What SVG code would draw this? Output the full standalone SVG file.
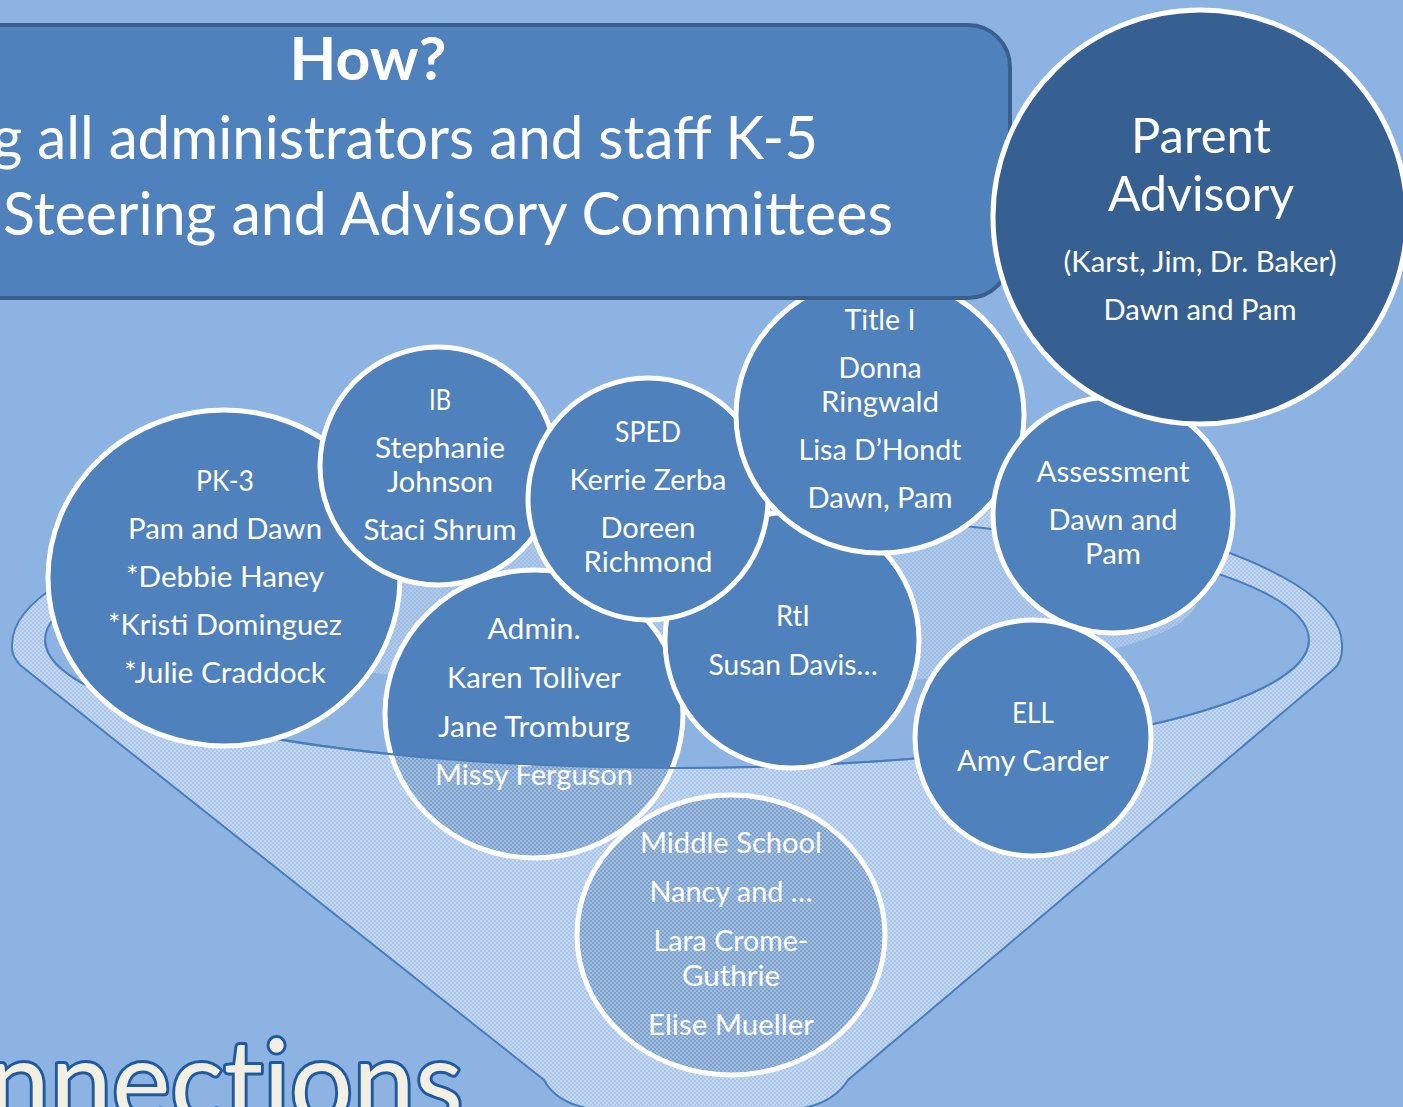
<svg xmlns="http://www.w3.org/2000/svg" width="1403" height="1107" viewBox="0 0 1403 1107">
<style>
.node{fill:#4F81BD;stroke:#FFFFFF;stroke-width:5}
.dark{fill:#376092;stroke:#FFFFFF;stroke-width:5}
.t{font-family:Lato,"Open Sans","Liberation Sans",sans-serif;fill:#FFFFFF;text-anchor:middle;font-size:28px}
.big{font-size:48px}
.title{font-family:Lato,"Open Sans","Liberation Sans",sans-serif;fill:#FFFFFF;font-size:60px}
.edge{fill:none;stroke:#4A7EBB;stroke-width:2}
</style>
<defs>
<pattern id="dots" width="4" height="4" patternUnits="userSpaceOnUse">
<rect width="4" height="4" fill="#FFFFFF" fill-opacity="0.25"/>
<rect width="2" height="2" fill="#FFFFFF" fill-opacity="0.3"/>
<rect x="2" y="2" width="2" height="2" fill="#FFFFFF" fill-opacity="0.3"/>
</pattern>
<clipPath id="innerClip"><ellipse cx="677" cy="640" rx="632" ry="128"/></clipPath>
</defs>
<rect width="1403" height="1107" fill="#8DB3E2"/>

<g id="funnel">
<path d="M45,640 A632,128 0 0 1 1309,640 L1342,645 A665,165 0 0 0 12,645 Z" fill="url(#dots)"/>
<ellipse cx="677" cy="600" rx="520" ry="90" fill="url(#dots)" opacity="0.6" clip-path="url(#innerClip)"/>
<ellipse class="edge" cx="677" cy="640" rx="632" ry="128"/>
</g>

<g id="node-admin">
<ellipse class="node" cx="534" cy="714" rx="149" ry="144"/>
<text class="t" x="534" y="639" textLength="93" lengthAdjust="spacingAndGlyphs">Admin.</text>
<text class="t" x="534" y="688" textLength="174" lengthAdjust="spacingAndGlyphs">Karen Tolliver</text>
<text class="t" x="534" y="737" textLength="192" lengthAdjust="spacingAndGlyphs">Jane Tromburg</text>
<text class="t" x="534" y="785" textLength="198" lengthAdjust="spacingAndGlyphs">Missy Ferguson</text>
</g>

<g id="node-middle">
<ellipse class="node" cx="731" cy="935" rx="154" ry="140"/>
<text class="t" x="731" y="853" textLength="182" lengthAdjust="spacingAndGlyphs">Middle School</text>
<text class="t" x="731" y="902" textLength="163" lengthAdjust="spacingAndGlyphs">Nancy and …</text>
<text class="t" x="731" y="951" textLength="155" lengthAdjust="spacingAndGlyphs">Lara Crome-</text>
<text class="t" x="731" y="986" textLength="98" lengthAdjust="spacingAndGlyphs">Guthrie</text>
<text class="t" x="731" y="1035" textLength="166" lengthAdjust="spacingAndGlyphs">Elise Mueller</text>
</g>

<g id="funnel-front">
<path d="M45,640 A632,128 0 0 0 1309,640 L1342,645 Q1343,662 1333,670 L848,1080 Q832,1106 790,1110 L600,1110 Q558,1106 544,1080 L20,665 Q11,655 12,645 Z" fill="url(#dots)"/>
<path class="edge" d="M12,645 A665,165 0 0 1 1342,645 Q1343,662 1333,670 L848,1080 Q832,1106 790,1110 L600,1110 Q558,1106 544,1080 L20,665 Q11,655 12,645 Z"/>
<path class="edge" d="M45,640 A632,128 0 0 0 1309,640"/>
</g>

<g id="node-pk3">
<ellipse class="node" cx="224" cy="578" rx="176" ry="168"/>
<text class="t" x="225" y="491" textLength="58" lengthAdjust="spacingAndGlyphs">PK-3</text>
<text class="t" x="225" y="539" textLength="194" lengthAdjust="spacingAndGlyphs">Pam and Dawn</text>
<text class="t" x="225" y="587" textLength="198" lengthAdjust="spacingAndGlyphs">*Debbie Haney</text>
<text class="t" x="225" y="635" textLength="234" lengthAdjust="spacingAndGlyphs">*Kristi Dominguez</text>
<text class="t" x="225" y="683" textLength="202" lengthAdjust="spacingAndGlyphs">*Julie Craddock</text>
</g>

<g id="node-ib">
<ellipse class="node" cx="438" cy="466" rx="118" ry="119"/>
<text class="t" x="440" y="410" textLength="22" lengthAdjust="spacingAndGlyphs">IB</text>
<text class="t" x="440" y="458" textLength="130" lengthAdjust="spacingAndGlyphs">Stephanie</text>
<text class="t" x="440" y="492" textLength="106" lengthAdjust="spacingAndGlyphs">Johnson</text>
<text class="t" x="440" y="540" textLength="153" lengthAdjust="spacingAndGlyphs">Staci Shrum</text>
</g>

<g id="node-rti">
<ellipse class="node" cx="792" cy="640" rx="127" ry="128"/>
<text class="t" x="793" y="626" textLength="34" lengthAdjust="spacingAndGlyphs">RtI</text>
<text class="t" x="793" y="675" textLength="169" lengthAdjust="spacingAndGlyphs">Susan Davis…</text>
</g>

<g id="node-sped">
<ellipse class="node" cx="648" cy="499" rx="120" ry="121"/>
<text class="t" x="648" y="442" textLength="66" lengthAdjust="spacingAndGlyphs">SPED</text>
<text class="t" x="648" y="490" textLength="157" lengthAdjust="spacingAndGlyphs">Kerrie Zerba</text>
<text class="t" x="648" y="538" textLength="95" lengthAdjust="spacingAndGlyphs">Doreen</text>
<text class="t" x="648" y="572" textLength="129" lengthAdjust="spacingAndGlyphs">Richmond</text>
</g>

<g id="node-title1">
<ellipse class="node" cx="880" cy="415" rx="144" ry="138"/>
<text class="t" x="880" y="330" textLength="71" lengthAdjust="spacingAndGlyphs">Title I</text>
<text class="t" x="880" y="378" textLength="83" lengthAdjust="spacingAndGlyphs">Donna</text>
<text class="t" x="880" y="412" textLength="118" lengthAdjust="spacingAndGlyphs">Ringwald</text>
<text class="t" x="880" y="460" textLength="163" lengthAdjust="spacingAndGlyphs">Lisa D’Hondt</text>
<text class="t" x="880" y="508" textLength="145" lengthAdjust="spacingAndGlyphs">Dawn, Pam</text>
</g>

<g id="node-ell">
<ellipse class="node" cx="1033" cy="738" rx="118" ry="118"/>
<text class="t" x="1033" y="723" textLength="42" lengthAdjust="spacingAndGlyphs">ELL</text>
<text class="t" x="1033" y="771" textLength="152" lengthAdjust="spacingAndGlyphs">Amy Carder</text>
</g>

<g id="node-assessment">
<ellipse class="node" cx="1113" cy="515" rx="120" ry="118"/>
<text class="t" x="1113" y="482" textLength="153" lengthAdjust="spacingAndGlyphs">Assessment</text>
<text class="t" x="1113" y="530" textLength="129" lengthAdjust="spacingAndGlyphs">Dawn and</text>
<text class="t" x="1113" y="564" textLength="56" lengthAdjust="spacingAndGlyphs">Pam</text>
</g>

<g id="node-how">
<rect x="-60" y="25" width="1070" height="273" rx="42" ry="42" fill="#4F81BD" stroke="#3A5F8F" stroke-width="4"/>
<text class="title" x="368" y="80" text-anchor="middle" font-weight="bold" textLength="157" lengthAdjust="spacingAndGlyphs">How?</text>
<text class="title" x="-8" y="159" textLength="826" lengthAdjust="spacingAndGlyphs">g all administrators and staff K-5</text>
<text class="title" x="3" y="235" textLength="890" lengthAdjust="spacingAndGlyphs">Steering and Advisory Committees</text>
</g>

<g id="node-parent">
<ellipse class="dark" cx="1200" cy="217" rx="207" ry="207"/>
<text class="t big" x="1201" y="153" textLength="140" lengthAdjust="spacingAndGlyphs">Parent</text>
<text class="t big" x="1201" y="211" textLength="186" lengthAdjust="spacingAndGlyphs">Advisory</text>
<text class="t" x="1200" y="272" textLength="273" lengthAdjust="spacingAndGlyphs">(Karst, Jim, Dr. Baker)</text>
<text class="t" x="1200" y="320" textLength="193" lengthAdjust="spacingAndGlyphs">Dawn and Pam</text>
</g>

<text x="-12" y="1122" font-family="Lato,'Open Sans','Liberation Sans',sans-serif" font-size="114" fill="#F3F0E3" stroke="#1F5AA0" stroke-width="6" paint-order="stroke" stroke-linejoin="round" style="font-variant-ligatures:none" textLength="475" lengthAdjust="spacingAndGlyphs">nnections</text>
</svg>
